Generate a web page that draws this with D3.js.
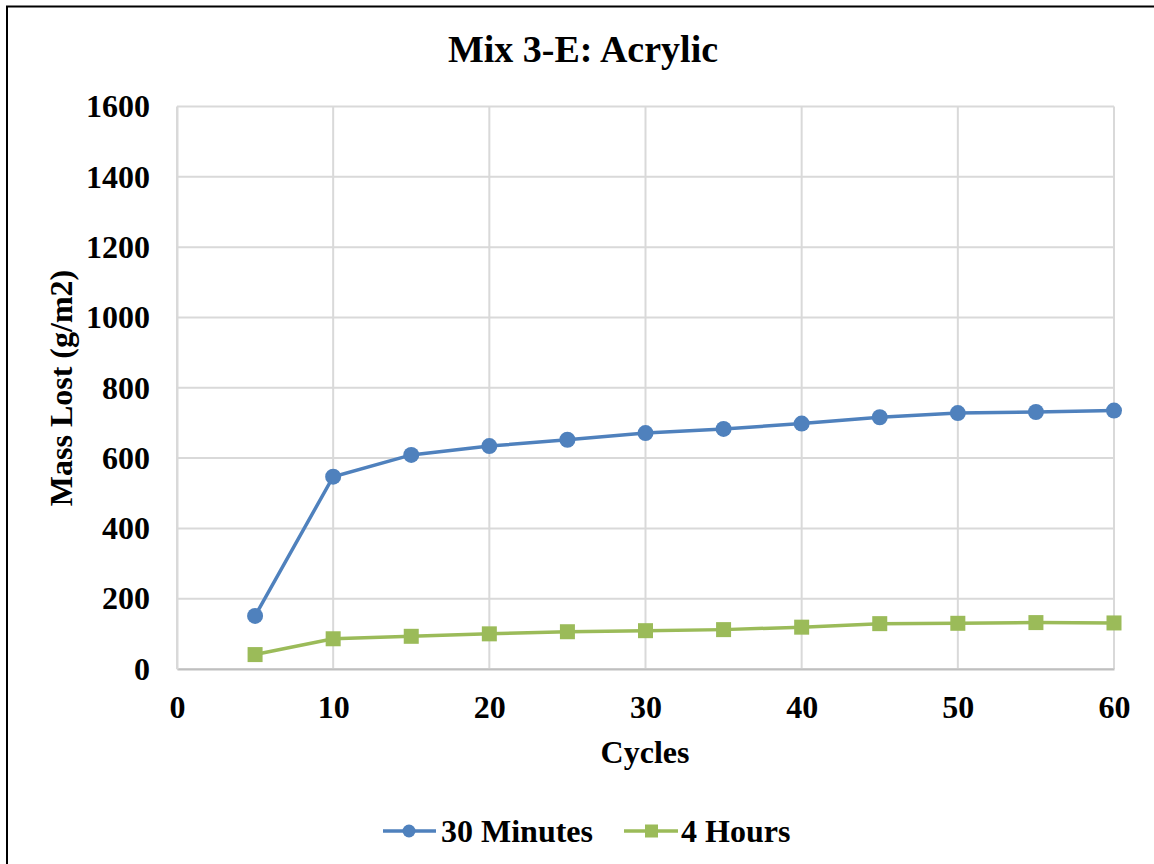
<!DOCTYPE html>
<html>
<head>
<meta charset="utf-8">
<script src="https://cdn.jsdelivr.net/npm/d3@7"></script>
<style>
  body { margin: 0; background: #fff; }
  text { font-family: "Liberation Serif", "Times New Roman", serif; font-weight: bold; fill: #000; }
</style>
</head>
<body>
<div id="chart"></div>
<script>
// data
var cycles = [5, 10, 15, 20, 25, 30, 35, 40, 45, 50, 55, 60];
var min30 = [151, 547, 609, 634, 652, 671, 683, 698, 716, 728, 731, 735];
var hours4 = [41, 86, 93, 100, 106, 109, 112, 119, 129, 130, 132, 131];
var xTicks = [0, 10, 20, 30, 40, 50, 60];
var yTicks = [0, 200, 400, 600, 800, 1000, 1200, 1400, 1600];
var seriesNames = ["30 Minutes", "4 Hours"];

var w = 1154, h = 864;
var plotLeft = 177, plotRight = 1114, plotTop = 106.5, plotBottom = 669;

var svg = d3.select("#chart").append("svg")
  .attr("width", w)
  .attr("height", h)

svg.append("rect")
  .attr("x", 7).attr("y", 6.5)
  .attr("width", 1170).attr("height", 880)
  .attr("fill", "none")
  .attr("stroke", "#000")
  .attr("stroke-width", 2)

var x = d3.scaleLinear().domain([0, 60]).range([plotLeft, plotRight]);
var y = d3.scaleLinear().domain([0, 1600]).range([plotBottom, plotTop]);

// gridlines
svg.append("g")
  .selectAll("line")
  .data(yTicks)
  .join("line")
  .attr("x1", plotLeft).attr("x2", plotRight)
  .attr("y1", function(d) { return y(d); })
  .attr("y2", function(d) { return y(d); })
  .attr("stroke", "#d9d9d9")
  .attr("stroke-width", 2)

svg.append("g")
  .selectAll("line")
  .data(xTicks)
  .join("line")
  .attr("y1", plotTop).attr("y2", plotBottom)
  .attr("x1", function(d) { return x(d); })
  .attr("x2", function(d) { return x(d); })
  .attr("stroke", "#d9d9d9")
  .attr("stroke-width", 2)

// axes (labels; grid draws the rest)
var xAxis = svg.append("g")
  .attr("transform", "translate(0," + plotBottom + ")")
  .call(d3.axisBottom(x).tickValues(xTicks).tickSize(0).tickPadding(26))
xAxis.select(".domain").attr("stroke", "#bfbfbf").attr("stroke-width", 2)
xAxis.selectAll("text").style("font-size", "32px")

var yAxis = svg.append("g")
  .attr("transform", "translate(" + plotLeft + ",0)")
  .call(d3.axisLeft(y).tickValues(yTicks).tickFormat(d3.format("d")).tickSize(0).tickPadding(27))
yAxis.select(".domain").attr("stroke", "#d9d9d9").attr("stroke-width", 2)
yAxis.selectAll("text").style("font-size", "32px")

// titles
svg.append("text")
  .attr("x", 583).attr("y", 62)
  .attr("text-anchor", "middle")
  .style("font-size", "38px")
  .text("Mix 3-E: Acrylic")

svg.append("text")
  .attr("x", 645).attr("y", 763)
  .attr("text-anchor", "middle")
  .style("font-size", "32px")
  .text("Cycles")

svg.append("text")
  .attr("transform", "translate(72,388) rotate(-90)")
  .attr("text-anchor", "middle")
  .style("font-size", "32px")
  .text("Mass Lost (g/m2)")

var line = d3.line()
  .x(function(d) { return x(d[0]); })
  .y(function(d) { return y(d[1]); })

var blue = "#4F81BD", green = "#9BBB59";

var blueData = d3.zip(cycles, min30);
var greenData = d3.zip(cycles, hours4);

svg.append("path")
  .datum(blueData)
  .attr("d", line)
  .attr("fill", "none")
  .attr("stroke", blue)
  .attr("stroke-width", 3.5)

svg.append("g")
  .selectAll("circle")
  .data(blueData)
  .join("circle")
  .attr("cx", function(d) { return x(d[0]); })
  .attr("cy", function(d) { return y(d[1]); })
  .attr("r", 8)
  .attr("fill", blue)

svg.append("path")
  .datum(greenData)
  .attr("d", line)
  .attr("fill", "none")
  .attr("stroke", green)
  .attr("stroke-width", 3.5)

svg.append("g")
  .selectAll("rect")
  .data(greenData)
  .join("rect")
  .attr("x", function(d) { return x(d[0]) - 7.5; })
  .attr("y", function(d) { return y(d[1]) - 7.5; })
  .attr("width", 15).attr("height", 15)
  .attr("fill", green)

// legend
var legY = 831;
svg.append("line").attr("x1", 383).attr("x2", 436).attr("y1", legY).attr("y2", legY)
  .attr("stroke", blue).attr("stroke-width", 3.5)
svg.append("circle").attr("cx", 409).attr("cy", legY).attr("r", 6.5).attr("fill", blue)
svg.append("text").attr("x", 441).attr("y", legY + 11)
  .style("font-size", "32px").text(seriesNames[0])

svg.append("line").attr("x1", 624).attr("x2", 678).attr("y1", legY).attr("y2", legY)
  .attr("stroke", green).attr("stroke-width", 3.5)
svg.append("rect").attr("x", 645).attr("y", legY - 6.5).attr("width", 13).attr("height", 13).attr("fill", green)
svg.append("text").attr("x", 681).attr("y", legY + 11)
  .style("font-size", "32px").text(seriesNames[1])
</script>
</body>
</html>
